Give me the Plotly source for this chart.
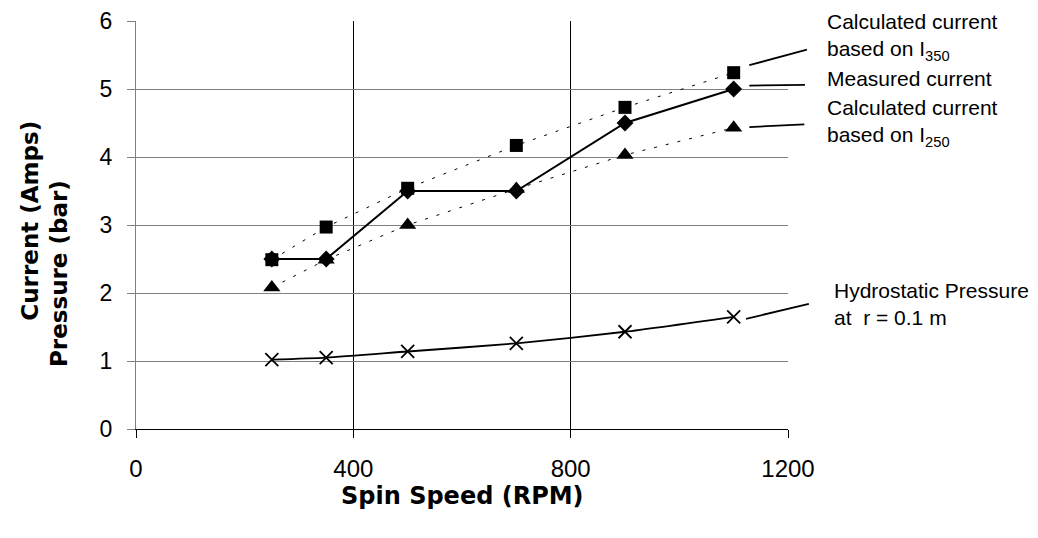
import plotly.graph_objects as go

# Data
speed_rpm = [250, 350, 500, 700, 900, 1100]
measured_current = [2.5, 2.5, 3.5, 3.5, 4.5, 5.0]
calc_current_i350 = [2.49, 2.97, 3.54, 4.17, 4.73, 5.24]
calc_current_i250 = [2.08, 2.49, 3.0, 3.53, 4.03, 4.43]
hydrostatic_pressure = [1.02, 1.05, 1.14, 1.26, 1.43, 1.65]

x_ticks = [0, 400, 800, 1200]
y_ticks = [0, 1, 2, 3, 4, 5, 6]
x_range = [0, 1200]
y_range = [0, 6]

labels = {
    "i350": "Calculated current<br>based on I<sub>350</sub>",
    "meas": "Measured current",
    "i250": "Calculated current<br>based on I<sub>250</sub>",
    "hydro": "Hydrostatic Pressure<br>at  r = 0.1 m",
}

FONT = "Liberation Sans"
TITLE_FONT = "DejaVu Sans"

fig = go.Figure()

fig.add_trace(go.Scatter(
    x=speed_rpm, y=measured_current, mode="lines+markers",
    line=dict(color="black", width=2),
    marker=dict(symbol="diamond", size=13, color="black"),
    name="Measured current"))

fig.add_trace(go.Scatter(
    x=speed_rpm, y=calc_current_i350, mode="lines+markers",
    line=dict(color="black", width=1, dash="3px,9px"),
    marker=dict(symbol="square", size=13, color="black"),
    name="Calculated current based on I350"))

fig.add_trace(go.Scatter(
    x=speed_rpm, y=calc_current_i250, mode="lines+markers",
    line=dict(color="black", width=1, dash="3px,9px"),
    marker=dict(symbol="triangle-up", size=15, color="black"),
    name="Calculated current based on I250"))

fig.add_trace(go.Scatter(
    x=speed_rpm, y=hydrostatic_pressure, mode="lines+markers",
    line=dict(color="black", width=1.8, shape="spline", smoothing=0.6),
    marker=dict(symbol="x-thin", size=13, line=dict(color="black", width=1.8)),
    name="Hydrostatic Pressure"))


def px(xv):
    return (xv - x_range[0]) / (x_range[1] - x_range[0])


def py(yv):
    return (yv - y_range[0]) / (y_range[1] - y_range[0])


x_last = speed_rpm[-1]

# (line start y, line end y, text centre y, start x offset, end x, text x, label)
leaders = [
    (calc_current_i350[-1] + 0.11, 5.58, 5.76, 0.024, 1.029, 1.057, labels["i350"]),
    (measured_current[-1] + 0.05, 5.06, 5.15, 0.024, 1.026, 1.057, labels["meas"]),
    (calc_current_i250[-1] + 0.01, 4.48, 4.50, 0.024, 1.025, 1.057, labels["i250"]),
    (hydrostatic_pressure[-1] - 0.03, 1.84, 1.84, 0.019, 1.032, 1.068, labels["hydro"]),
]

shapes = []
annotations = []
for y0, y1, ytxt, dx, ex, tx, txt in leaders:
    shapes.append(dict(type="line", xref="paper", yref="paper",
                       x0=px(x_last) + dx, y0=py(y0), x1=ex, y1=py(y1),
                       line=dict(color="black", width=1.8)))
    annotations.append(dict(xref="paper", yref="paper", x=tx, y=py(ytxt),
                            text=txt, showarrow=False,
                            xanchor="left", yanchor="middle", align="left",
                            font=dict(family=FONT, size=21, color="black")))

# Axis titles
annotations.append(dict(xref="paper", yref="paper", x=0.5, y=-0.163,
                        text="<b>Spin Speed (RPM)</b>", showarrow=False,
                        xanchor="center", yanchor="middle",
                        font=dict(family=TITLE_FONT, size=24, color="black")))
annotations.append(dict(xref="paper", yref="paper", x=-0.163, y=0.51,
                        text="<b>Current (Amps)</b>", showarrow=False, textangle=-90,
                        xanchor="center", yanchor="middle",
                        font=dict(family=TITLE_FONT, size=23, color="black")))
annotations.append(dict(xref="paper", yref="paper", x=-0.118, y=0.38,
                        text="<b>Pressure (bar)</b>", showarrow=False, textangle=-90,
                        xanchor="center", yanchor="middle",
                        font=dict(family=TITLE_FONT, size=23, color="black")))

fig.update_layout(
    width=1030, height=532,
    margin=dict(l=128, r=250, t=13, b=111),
    paper_bgcolor="white", plot_bgcolor="white",
    showlegend=False,
    font=dict(family=FONT, color="black"),
    shapes=shapes,
    annotations=annotations,
    xaxis=dict(
        range=x_range, tickvals=x_ticks, ticktext=[str(v) for v in x_ticks],
        showgrid=True, gridcolor="black", gridwidth=1,
        showline=True, linecolor="black", linewidth=1,
        ticks="outside", ticklen=8, tickcolor="black",
        zeroline=False, automargin=False, ticklabelstandoff=10,
        ticklabeloverflow="allow",
        tickfont=dict(family=FONT, size=24, color="black"),
    ),
    yaxis=dict(
        range=y_range, tickvals=y_ticks, ticktext=[str(v) for v in y_ticks],
        showgrid=True, gridcolor="#808080", gridwidth=1,
        showline=True, linecolor="#808080", linewidth=1,
        ticks="outside", ticklen=8, tickcolor="#808080",
        zeroline=False, automargin=False, ticklabelstandoff=10,
        ticklabeloverflow="allow",
        tickfont=dict(family=FONT, size=23, color="black"),
    ),
)

fig.write_html("out.html")
